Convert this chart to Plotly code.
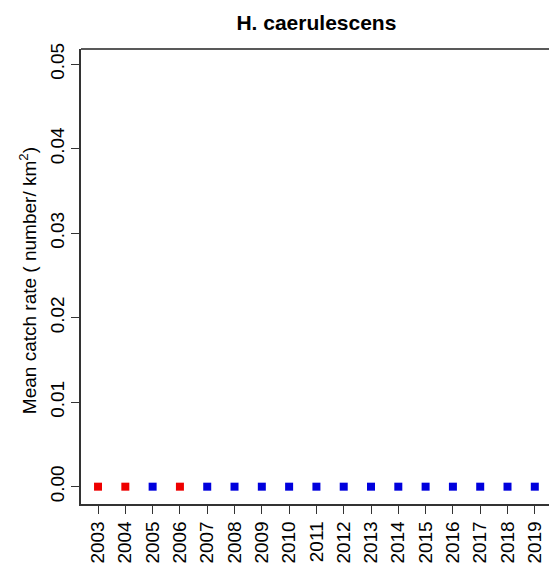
import plotly.graph_objects as go

years = list(range(2003, 2020))
catch_rate = [0.0] * len(years)
# red = flagged years, blue = others
flag = [1, 1, 0, 1, 0, 0, 0, 0, 0, 0, 0, 0, 0, 0, 0, 0, 0]
colors = ['#ee0000' if f else '#0000dd' for f in flag]
y_ticks = [0, 0.01, 0.02, 0.03, 0.04, 0.05]

fig = go.Figure()
fig.add_trace(go.Scatter(
    x=years, y=catch_rate, mode='markers',
    marker={'symbol': 'square', 'size': 8, 'color': colors, 'line': {'width': 0}},
    showlegend=False, hoverinfo='x+y'
))

fam = 'Liberation Sans, Arial, sans-serif'
axis_font = {'family': fam, 'size': 19, 'color': 'black'}

fig.update_layout(
    width=549, height=572,
    margin={'l': 81, 'r': 0, 't': 49, 'b': 68},
    paper_bgcolor='white', plot_bgcolor='white',
    font=axis_font,
    title={'text': '<b>H. caerulescens</b>', 'x': 0.503, 'xref': 'paper', 'xanchor': 'center',
           'y': 0.96, 'yanchor': 'middle',
           'font': {'family': fam, 'size': 21, 'color': 'black'}},
    xaxis={
        'range': [2002.376, 2019.52], 'tickvals': years, 'ticktext': [str(y) for y in years],
        'tickangle': -90, 'ticks': 'outside', 'ticklen': 8, 'tickcolor': '#333',
        'showline': True, 'linecolor': '#333', 'linewidth': 1.5,
        'showgrid': False, 'zeroline': False, 'tickfont': axis_font, 'automargin': False,
    },
    yaxis={
        'range': [-0.00205, 0.0518], 'tickvals': y_ticks,
        'ticktext': ['%.2f' % v for v in y_ticks],
        'tickangle': -90, 'ticks': 'outside', 'ticklen': 8, 'tickcolor': '#333',
        'showline': True, 'linecolor': '#333', 'linewidth': 1.5,
        'showgrid': False, 'zeroline': False, 'tickfont': axis_font, 'automargin': False,
    },
    shapes=[{'type': 'line', 'xref': 'paper', 'yref': 'paper', 'x0': 0, 'x1': 1,
             'y0': 1, 'y1': 1, 'line': {'color': '#222', 'width': 1.5}}],
    annotations=[{'text': 'Mean catch rate ( number/ km<sup>2</sup>)', 'textangle': -90,
                  'xref': 'paper', 'yref': 'paper', 'x': -0.113, 'y': 0.49,
                  'xanchor': 'center', 'yanchor': 'middle', 'showarrow': False,
                  'font': axis_font}],
)

# drop the page's default body margin so the figure sits at the window corner
fig.write_html('out.html', config={'displayModeBar': False},
               post_script="document.body.style.margin='0';document.body.style.overflow='hidden';")
